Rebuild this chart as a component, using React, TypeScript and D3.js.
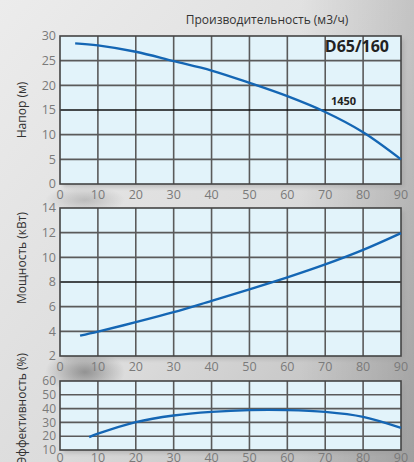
import React from "react";
import * as d3 from "d3";

const xTicks = [0, 10, 20, 30, 40, 50, 60, 70, 80, 90];
const headTicks = [0, 5, 10, 15, 20, 25, 30];
const powerTicks = [2, 4, 6, 8, 10, 12, 14];
const effTicks = [10, 20, 30, 40, 50, 60];

const headFlow = [4, 10, 20, 30, 40, 50, 60, 70, 80, 90];
const headValues = [28.5, 28.1, 26.8, 24.9, 23.0, 20.5, 17.8, 14.6, 10.5, 5.0];

const powerFlow = [5.3, 10, 20, 30, 40, 50, 60, 70, 80, 90];
const powerValues = [3.65, 3.98, 4.74, 5.55, 6.47, 7.4, 8.37, 9.42, 10.6, 11.96];

const effFlow = [7.7, 10, 20, 30, 40, 50, 60, 70, 80, 90];
const effValues = [19.4, 21.8, 30.2, 35.0, 37.6, 38.9, 38.9, 37.6, 34.0, 26.0];

const title = "Производительность (м3/ч)";
const headLabel = "Напор (м)";
const powerLabel = "Мощность (кВт)";
const effLabel = "Эффективность (%)";
const modelLabel = "D65/160";
const speedLabel = "1450";

const W = 414;
const H = 462;
const FONT = "'Open Sans', 'Noto Sans', sans-serif";

const x = d3.scaleLinear().domain([0, 90]).range([60, 401]);

type PanelProps = {
  y: d3.ScaleLinear<number, number>;
  ticks: number[];
  xs: number[];
  ys: number[];
  dark: number | null;
  labelY: number;
  tickSize: number;
};

function Panel({ y, ticks, xs, ys, dark, labelY, tickSize }: PanelProps) {
  const [y0, y1] = y.range();
  const top = Math.min(y0, y1);
  const bottom = Math.max(y0, y1);
  const left = x(0);
  const right = x(90);
  const line = d3
    .line<number>()
    .x((d, i) => x(xs[i]))
    .y((d) => y(d))
    .curve(d3.curveCatmullRom);
  return (
    <g>
      <rect x={left + 3} y={top + 3} width={right - left} height={bottom - top} fill="#999" opacity={0.5} filter="url(#blur)" />
      <rect x={left} y={top} width={right - left} height={bottom - top} fill="#e2f3fa" />
      {xTicks.slice(1, -1).map((t) => (
        <line key={"v" + t} x1={x(t)} x2={x(t)} y1={top} y2={bottom} stroke="#5a5a5a" strokeWidth={1.6} />
      ))}
      {ticks.slice(1, -1).map((t) => (
        <line key={"h" + t} x1={left} x2={right} y1={y(t)} y2={y(t)} stroke={t === dark ? "#111" : "#5a5a5a"} strokeWidth={1.6} />
      ))}
      <rect x={left} y={top} width={right - left} height={bottom - top} fill="none" stroke="#444" strokeWidth={1.6} />
      <path d={line(ys) || ""} fill="none" stroke="#1466b4" strokeWidth={2.4} />
      {ticks.map((t) => (
        <text key={"yt" + t} x={left - 4} y={y(t)} dy="0.35em" textAnchor="end" fontSize={tickSize} fill="#7a7a7a" fontFamily={FONT}>
          {t}
        </text>
      ))}
      {xTicks.map((t) => (
        <text key={"xt" + t} x={x(t)} y={labelY} dy="0.35em" textAnchor="middle" fontSize={12.5} fill="#7a7a7a" fontFamily={FONT}>
          {t}
        </text>
      ))}
    </g>
  );
}

export default function App() {
  const yHead = d3.scaleLinear().domain([0, 30]).range([184, 36]);
  const yPower = d3.scaleLinear().domain([2, 14]).range([356, 208]);
  const yEff = d3.scaleLinear().domain([10, 60]).range([450, 381]);
  return (
    <svg width={W} height={H} style={{ position: "absolute", left: 0, top: 0 }}>
      <defs>
        <linearGradient id="bg" x1="0" y1="0" x2="1" y2="1">
          <stop offset="0" stopColor="#ececec" />
          <stop offset="0.55" stopColor="#dcdcdc" />
          <stop offset="1" stopColor="#b4b4b4" />
        </linearGradient>
        <linearGradient id="rside" x1="0" y1="0" x2="1" y2="0">
          <stop offset="0" stopColor="#000" stopOpacity={0} />
          <stop offset="1" stopColor="#000" stopOpacity={0.12} />
        </linearGradient>
        <radialGradient id="smudge" cx="0.5" cy="0.5" r="0.5">
          <stop offset="0" stopColor="#555" stopOpacity={0.55} />
          <stop offset="1" stopColor="#555" stopOpacity={0} />
        </radialGradient>
        <filter id="blur">
          <feGaussianBlur stdDeviation="2" />
        </filter>
      </defs>
      <rect x={0} y={0} width={W} height={H} fill="url(#bg)" />
      <rect x={300} y={0} width={114} height={H} fill="url(#rside)" />
      <ellipse cx={85} cy={372} rx={40} ry={22} fill="url(#smudge)" />
      <ellipse cx={85} cy={200} rx={40} ry={14} fill="url(#smudge)" opacity={0.5} />
      <text x={267} y={20} dy="0.35em" textAnchor="middle" fontSize={12} fill="#333" fontFamily={FONT}>
        {title}
      </text>
      <Panel y={yHead} ticks={headTicks} xs={headFlow} ys={headValues} dark={15} labelY={195} tickSize={12.5} />
      <Panel y={yPower} ticks={powerTicks} xs={powerFlow} ys={powerValues} dark={8} labelY={367} tickSize={12.5} />
      <Panel y={yEff} ticks={effTicks} xs={effFlow} ys={effValues} dark={null} labelY={458} tickSize={12} />
      <text x={389} y={52} textAnchor="end" fontSize={16} fontWeight="bold" fill="#222" fontFamily={FONT}>
        {modelLabel}
      </text>
      <text x={331} y={105} fontSize={11} fontWeight="bold" fill="#222" fontFamily={FONT}>
        {speedLabel}
      </text>
      <text transform="translate(26,110) rotate(-90)" textAnchor="middle" fontSize={12} fill="#333" fontFamily={FONT}>
        {headLabel}
      </text>
      <text transform="translate(26,258) rotate(-90)" textAnchor="middle" fontSize={12} fill="#333" fontFamily={FONT}>
        {powerLabel}
      </text>
      <text transform="translate(26,353) rotate(-90)" textAnchor="end" fontSize={12} fill="#333" fontFamily={FONT}>
        {effLabel}
      </text>
    </svg>
  );
}
